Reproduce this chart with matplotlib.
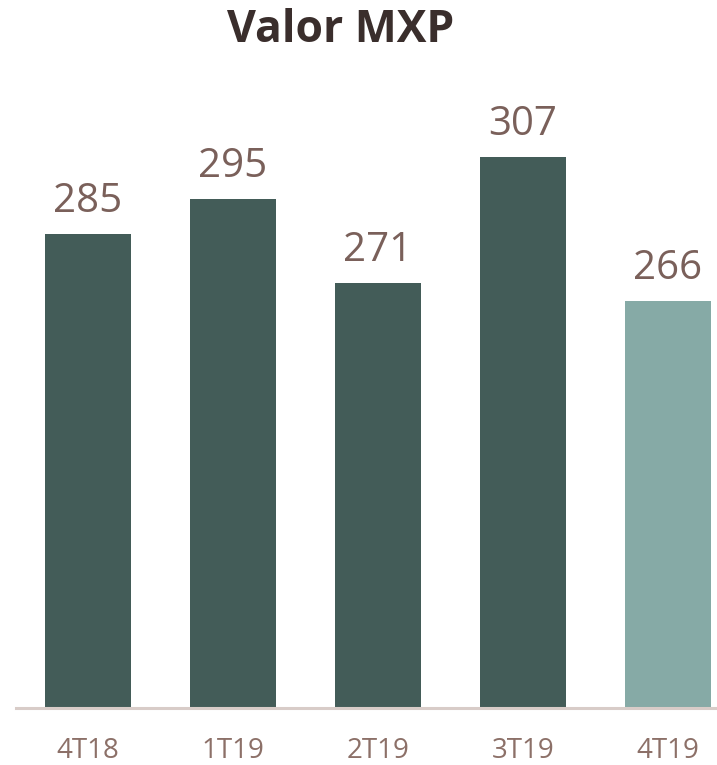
import matplotlib
matplotlib.use("Agg")
import matplotlib.pyplot as plt

categories = ["4T18", "1T19", "2T19", "3T19", "4T19"]
values = [285, 295, 271, 307, 266]
bar_colors = ["#435C58", "#435C58", "#435C58", "#435C58", "#86AAA6"]
title = "Valor MXP"

W, H = 717, 765
fig = plt.figure(figsize=(W / 100, H / 100), dpi=100)
plt.rcParams["font.family"] = ["Open Sans", "DejaVu Sans"]

left_px, right_px = 15.5, 740.5
base_px, top_px = 708, 76
ax = fig.add_axes([left_px / W, (H - base_px) / H, (right_px - left_px) / W, (base_px - top_px) / H])

x = list(range(len(categories)))
ax.bar(x, values, width=0.593, color=bar_colors, bottom=0, zorder=2)
ax.set_xlim(-0.5, 4.5)
ax.set_ylim(150, 150 + (base_px - top_px) / 3.51)

for s in ["top", "right", "left"]:
    ax.spines[s].set_visible(False)
ax.spines["bottom"].set_color("#D8CCC8")
ax.spines["bottom"].set_linewidth(2.2)
ax.spines["bottom"].set_zorder(3)
ax.set_yticks([])
ax.set_xticks(x)
ax.set_xticklabels(categories, fontsize=20, color="#8C7068")
ax.tick_params(axis="x", length=0, pad=21)

for xi, v in zip(x, values):
    ax.annotate(f"{v}", (xi, v), xytext=(0, 16), textcoords="offset points",
                ha="center", va="baseline", fontsize=29, color="#7A605A")

fig.text(341 / W, 1 - 30 / H, title, ha="center", va="center", fontsize=32,
         fontweight="bold", color="#3A2E2C")

fig.savefig("out.png", dpi=100)
